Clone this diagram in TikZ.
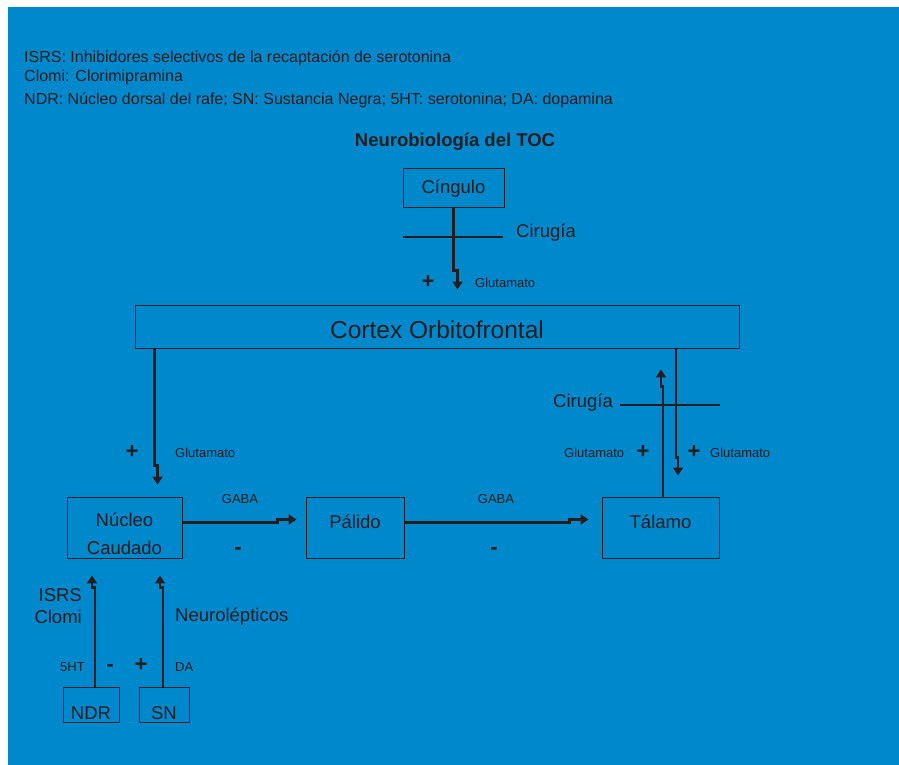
\documentclass[tikz,border=0pt]{standalone}
\usepackage{fontspec}
\setmainfont{Liberation Sans}
\usetikzlibrary{arrows.meta,calc}

\definecolor{fondo}{RGB}{0,136,204}
\definecolor{tinta}{RGB}{35,31,32}

\tikzset{
  caja/.style={draw=tinta, line width=0.9pt, inner sep=0pt, text=tinta,
    font=\fontsize{18.5}{28}\selectfont},
  via/.style={draw=tinta, line width=2.2pt, -{Triangle[length=8pt,width=10pt]}},
  corte/.style={draw=tinta, line width=2pt},
  texto/.style={text=tinta, inner sep=0pt, font=\fontsize{18.5}{22}\selectfont},
  etiq/.style={text=tinta, inner sep=0pt, font=\fontsize{13}{15}\selectfont},
  signo/.style={text=tinta, inner sep=0pt, font=\bfseries\fontsize{22}{22}\selectfont},
  leyenda/.style={text=tinta, inner sep=0pt, anchor=west, font=\fontsize{16}{18}\selectfont},
}

\begin{document}
\begin{tikzpicture}[x=1pt,y=-1pt]
  % fondo
  \useasboundingbox (0,0) rectangle (899,765);
  \fill[fondo] (8,7) rectangle (899,765);

  % leyenda
  \node[leyenda] (ley1) at (24,58) {ISRS: Inhibidores selectivos de la recaptación de serotonina};
  \node[leyenda] (ley2) at (24,77) {Clomi: Clorimipramina};
  \node[leyenda] (ley3) at (24,100) {NDR: Núcleo dorsal del rafe; SN: Sustancia Negra; 5HT: serotonina; DA: dopamina};
  \node[texto, font=\bfseries\fontsize{18.5}{22}\selectfont] (titulo) at (455,142) {Neurobiología del TOC};

  % cajas
  \node[caja, minimum width=101, minimum height=39, text height=12.5, text depth=0] (cingulo) at (453.5,187.5) {Cíngulo};
  \node[caja, minimum width=604, minimum height=43, text height=24.6, text depth=0,
    font=\fontsize{24.5}{28}\selectfont] (cortex) at (437,326.5) {Cortex Orbitofrontal};
  \node[caja, minimum width=115, minimum height=61, align=center] (caudado) at (124.5,527.5) {\rule{0pt}{27pt}Núcleo\\Caudado};
  \node[caja, minimum width=98, minimum height=61, text height=15, text depth=13] (palido) at (355,527.5) {Pálido};
  \node[caja, minimum width=117, minimum height=61, text height=15, text depth=13] (talamo) at (660.5,527.5) {Tálamo};
  \node[caja, minimum width=56, minimum height=35, text height=30, text depth=0] (ndr) at (91,704.5) {NDR};
  \node[caja, minimum width=50, minimum height=35, text height=30, text depth=0] (sn) at (164,704.5) {SN};

  % conexiones
  \draw[via, shorten >=15pt] (cingulo.south) -- ++(0,63) -| ($(cingulo.south |- cortex.north)+(4,0)$);
  \draw[via, shorten >=12pt] ($(cortex.south west)+(20,0)$) -- ++(0,117) -| ($(cortex.south west |- caudado.north)+(23,0)$);
  \draw[via, shorten >=9pt] ($(caudado.east)+(0,-5)$) -- ++(95,0) |- ($(palido.west)+(0,-8)$);
  \draw[via, shorten >=13pt] ($(palido.east)+(0,-5)$) -- ++(165,0) |- ($(talamo.west)+(0,-8)$);
  \draw[via, shorten >=21pt] ($(talamo.north)+(2.5,0)$) -- ++(0,-110) -| ($(talamo.north |- cortex.south)+(0.5,0)$);
  \draw[via, shorten >=21pt] ($(talamo.north |- cortex.south)+(15.5,0)$) -- ++(0,109) -| ($(talamo.north)+(17.5,0)$);
  \draw[via, shorten >=17pt] ($(ndr.north)+(4,0)$) -- ++(0,-99) -| ($(ndr.north |- caudado.south)+(1,0)$);
  \draw[via, shorten >=17pt] ($(sn.north)+(-1,0)$) -- ++(0,-99) -| ($(sn.north |- caudado.south)+(-4,0)$);

  % cirugia
  \coordinate (cortea1) at (403,237);
  \coordinate (cortea2) at (503,237);
  \coordinate (corteb1) at (620,405);
  \coordinate (corteb2) at (720,405);
  \draw[corte] (cortea1) -- (cortea2);
  \draw[corte] (corteb1) -- (corteb2);
  \node[texto, anchor=west] (cirugia1) at (516,233) {Cirugía};
  \node[texto, anchor=west] (cirugia2) at (553,403) {Cirugía};

  % etiquetas
  \node[signo] (s1) at (428,282) {+};
  \node[etiq, anchor=west] (glu1) at (475,283) {Glutamato};
  \node[signo] (s2) at (132,452) {+};
  \node[etiq, anchor=west] (glu2) at (175,453) {Glutamato};
  \node[etiq] (gaba1) at (240,499) {GABA};
  \node[signo] (s3) at (238,551) {-};
  \node[etiq] (gaba2) at (496,499) {GABA};
  \node[signo] (s4) at (494,551) {-};
  \node[etiq, anchor=west] (glu3) at (564,453) {Glutamato};
  \node[signo] (s5) at (643,452) {+};
  \node[signo] (s6) at (694,452) {+};
  \node[etiq, anchor=west] (glu4) at (710,453) {Glutamato};
  \node[texto, align=right, anchor=east] (isrs) at (82,606) {ISRS\\Clomi};
  \node[texto, anchor=west] (neuro) at (175,617) {Neurolépticos};
  \node[etiq, anchor=west] (ht) at (60,667) {5HT};
  \node[signo] (s7) at (110,668) {-};
  \node[signo] (s8) at (141,665) {+};
  \node[etiq, anchor=west] (da) at (175,667) {DA};
\end{tikzpicture}
\end{document}
